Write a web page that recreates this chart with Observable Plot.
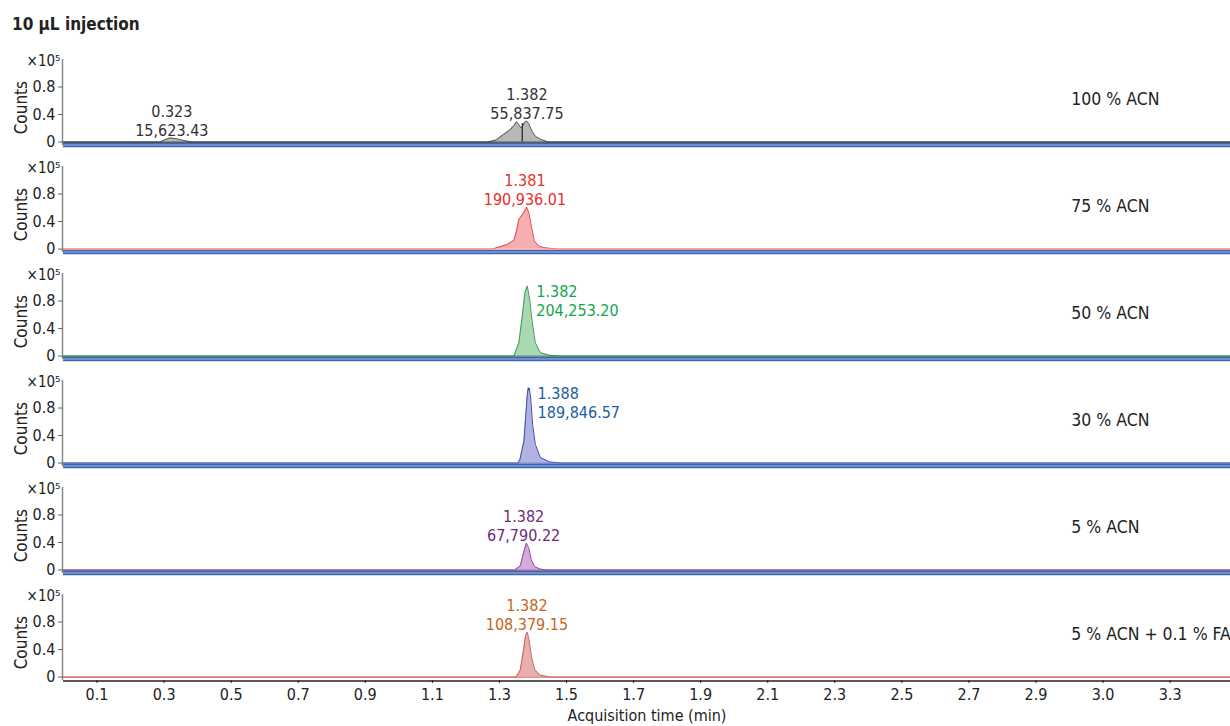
<!DOCTYPE html>
<html>
<head>
<meta charset="utf-8">
<script src="https://cdn.jsdelivr.net/npm/d3@7"></script>
<script src="https://cdn.jsdelivr.net/npm/@observablehq/plot@0.6"></script>
<style>
  html, body { margin: 0; padding: 0; background: #fff; overflow: hidden; }
  body { font-family: "DejaVu Sans Condensed", "Liberation Sans Narrow", "Roboto", sans-serif; }
  #title { box-sizing: border-box; height: 40px; padding: 12px 0 0 12px; line-height: 24px;
           font-size: 17px; font-weight: bold; color: #222; }
</style>
</head>
<body>
<div id="title">10 µL injection</div>
<div id="chart"></div>
<script>
// ---------- data ----------
const seriesNames = ["100 % ACN", "75 % ACN", "50 % ACN", "30 % ACN", "5 % ACN", "5 % ACN + 0.1 % FA"];

// [time (min), counts (x10^5)]
const acn100 = [[0,0],[0.288,0],[0.30,0.03],[0.318,0.06],[0.34,0.045],[0.36,0.02],[0.383,0],
  [1.264,0],[1.29,0.03],[1.312,0.11],[1.33,0.17],[1.343,0.24],[1.351,0.295],[1.357,0.26],[1.363,0.21],
  [1.368,0.22],[1.374,0.28],[1.381,0.305],[1.388,0.26],[1.398,0.15],[1.407,0.085],[1.422,0.04],[1.446,0],[3.48,0]];
const acn75 = [[0,0],[1.278,0],[1.30,0.03],[1.323,0.068],[1.343,0.125],[1.351,0.27],[1.358,0.43],[1.371,0.52],
  [1.381,0.61],[1.388,0.52],[1.396,0.31],[1.404,0.12],[1.417,0.045],[1.432,0.02],[1.472,0],[3.48,0]];
const acn50 = [[0,0],[1.343,0],[1.358,0.193],[1.368,0.582],[1.376,0.921],[1.383,1.018],[1.390,0.825],
  [1.398,0.484],[1.407,0.193],[1.422,0.048],[1.45,0.01],[1.482,0],[3.48,0]];
const acn30 = [[0,0],[1.355,0],[1.361,0.05],[1.373,0.32],[1.378,0.66],[1.383,1.0],[1.386,1.095],[1.388,1.06],
  [1.389,1.09],[1.393,0.95],[1.399,0.56],[1.407,0.27],[1.422,0.08],[1.45,0.015],[1.482,0],[3.48,0]];
const acn5 = [[0,0],[1.345,0],[1.362,0.06],[1.372,0.25],[1.38,0.39],[1.387,0.33],[1.395,0.15],[1.405,0.05],
  [1.42,0.015],[1.445,0],[3.48,0]];
const acn5fa = [[0,0],[1.35,0],[1.362,0.1],[1.372,0.4],[1.378,0.6],[1.383,0.65],[1.389,0.52],[1.396,0.28],
  [1.405,0.11],[1.42,0.03],[1.45,0],[3.48,0]];

// peak annotations
const peakSeries = [0, 0, 1, 2, 3, 4, 5];
const peakRT     = ["0.323", "1.382", "1.381", "1.382", "1.388", "1.382", "1.382"];
const peakArea   = ["15,623.43", "55,837.75", "190,936.01", "204,253.20", "189,846.57", "67,790.22", "108,379.15"];
const peakTime   = [0.323, 1.382, 1.376, 1.383, 1.387, 1.372, 1.382];
const peakApex   = [0.06, 0.305, 0.61, 1.018, 1.095, 0.39, 0.65];

// split marker in the 100 % ACN trace
const splitTime = 1.368, splitTop = 0.27;

// axes
const xTicks = [0.1,0.3,0.5,0.7,0.9,1.1,1.3,1.5,1.7,1.9,2.1,2.3,2.5,2.7,2.9,3.1,3.3];
const xTickLabels = ["0.1","0.3","0.5","0.7","0.9","1.1","1.3","1.5","1.7","1.9","2.1","2.3","2.5","2.7","2.9","3.0","3.3"];
const yTicks = [0, 0.4, 0.8];
const yTickLabels = ["0", "0.4", "0.8"];

// ---------- styles ----------
const fillColors     = ["#b8b8b8", "#f6aeb0", "#aad8b3", "#b0b3e0", "#d5abdb", "#e6b0ab"];
const outlineColors  = ["#555555", "#e5474c", "#3d9a5a", "#3f4aa8", "#8e4b98", "#c8605a"];
const baselineColors = ["#333333", "#f3a3a5", "#3f7d52", "#6070c2", "#8e4b98", "#d86a6a"];
const labelColors    = ["#333333", "#e8302a", "#13a54a", "#1b5e9c", "#6f2a78", "#c4661e"];
const rightPlaced = new Set(["50 % ACN", "30 % ACN"]);
const FONT = `"DejaVu Sans Condensed", "Liberation Sans Narrow", "Roboto", sans-serif`;

const seriesData = [acn100, acn75, acn50, acn30, acn5, acn5fa];
const rows = seriesData.map((arr, i) => arr.map(([t, v]) => ({s: seriesNames[i], t, v})));

const peaks = peakSeries.map((si, k) => ({
  s: seriesNames[si], t: peakTime[k], v: peakApex[k],
  text: peakRT[k] + "\n" + peakArea[k], color: labelColors[si]
}));

const marks = [];
// separators between panels
marks.push(Plot.ruleY(seriesNames.slice(0, 5), {y: () => -0.05, fy: d => d, dy: -0.5, stroke: "#3c66b0", strokeWidth: 4.5}));
marks.push(Plot.ruleY(seriesNames.slice(0, 5), {y: () => -0.05, fy: d => d, dy: -0.5, stroke: "#9db9e6", strokeWidth: 1.2}));
// bottom x axis line
marks.push(Plot.ruleY(seriesNames.slice(5), {y: () => -0.05, fy: d => d, dy: 0.5, stroke: "#222", strokeWidth: 1.5}));

seriesNames.forEach((name, i) => {
  marks.push(Plot.areaY(rows[i], {x: "t", y: "v", fy: "s", fill: fillColors[i], curve: "linear"}));
  marks.push(Plot.lineY(rows[i], {x: "t", y: "v", fy: "s", stroke: outlineColors[i], strokeWidth: 1}));
  marks.push(Plot.ruleY([name], {y: () => 0, fy: d => d, stroke: baselineColors[i], strokeWidth: 1.3}));
  marks.push(Plot.text([name], {x: () => 3.005, y: () => 0.62, fy: d => d, text: d => d,
    textAnchor: "start", fontSize: 17.5, fill: "#222"}));
});

marks.push(Plot.ruleX([{s: seriesNames[0], t: splitTime, v: splitTop}], {x: "t", y1: () => 0, y2: "v", fy: "s", stroke: "#222", strokeWidth: 1.2}));

// peak labels
marks.push(Plot.text(peaks.filter(p => !rightPlaced.has(p.s)), {x: "t", y: "v", fy: "s", text: "text",
  fill: "color", lineAnchor: "bottom", textAnchor: "middle", dy: -2, fontSize: 16, lineHeight: 1.18}));
marks.push(Plot.text(peaks.filter(p => rightPlaced.has(p.s)), {x: "t", y: "v", fy: "s", text: "text",
  fill: "color", lineAnchor: "top", textAnchor: "start", dx: 9, dy: -2, fontSize: 16, lineHeight: 1.18}));

// y axis per panel
marks.push(Plot.ruleX([0], {y1: -0.05, y2: 1.2, dx: -1, stroke: "#888", strokeWidth: 1.5}));
marks.push(Plot.axisY({ticks: yTicks, tickFormat: (d) => yTickLabels[yTicks.indexOf(d)], tickSize: 5,
  tickPadding: 3, label: null, fontSize: 16, stroke: "#666"}));
marks.push(Plot.text(["×10⁵"], {x: () => 0, y: () => 1.18, text: d => d, textAnchor: "end", dx: -3, fontSize: 15, fill: "#222"}));
marks.push(Plot.text(["Counts"], {x: () => 0, y: () => 0.5, text: d => d, rotate: -90, dx: -42, fontSize: 17, fill: "#222"}));

// x axis
marks.push(Plot.axisX({ticks: xTicks, tickFormat: d => xTickLabels[xTicks.indexOf(d)], tickSize: 3, tickPadding: 5,
  fontSize: 16, label: "Acquisition time (min)", labelAnchor: "center", labelArrow: "none", labelOffset: 40}));

const chart = Plot.plot({
  width: 1230,
  height: 686,
  marginTop: 18.5,
  marginBottom: 45.6,
  marginLeft: 63,
  marginRight: 0,
  style: {fontFamily: FONT, fontSize: "16px", color: "#222", background: "#fff", overflow: "visible"},
  x: {domain: [0, 3.48]},
  y: {domain: [-0.05, 1.2]},
  fy: {domain: seriesNames, paddingInner: 0.198, paddingOuter: 0, axis: null, label: null},
  facet: {marginTop: 0, marginBottom: 0, marginLeft: 0, marginRight: 0},
  marks
});
document.getElementById("chart").appendChild(chart);
</script>
</body>
</html>
